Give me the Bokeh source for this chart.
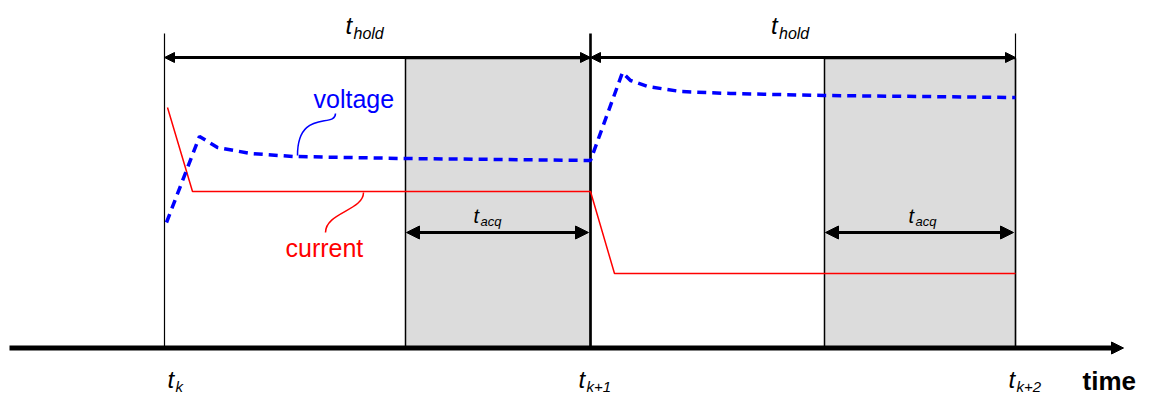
from bokeh.plotting import figure
from bokeh.models import Range1d, Arrow, NormalHead
from bokeh.core.properties import value
from bokeh.embed import file_html
from bokeh.resources import INLINE

W, H = 1141, 395
TOP = 411  # reference picture height; y = TOP - pixel row

# ---------------- data (time positions / signal levels) ----------------
tick_times = [164, 590, 1015]            # t_k, t_k+1, t_k+2
tick_subs = ["k", "k+1", "k+2"]
acq_start = [405, 824]                   # start of acquisition windows
acq_end = [590, 1015]
hold_start = [164, 590]
hold_end = [590, 1015]

current_t = [167, 192, 590, 614, 1015]
current_level = [304, 220, 220, 138, 138]

voltage_t = [166, 199, 217, 250, 293, 403, 500, 590,
             622, 630, 647, 680, 730, 823, 1015]
voltage_level = [189, 275, 264, 258, 255, 253, 252, 251,
                 339, 331, 325, 320, 318, 316, 314]

axis_level = 63.5
hold_level = 354
acq_level = 179

FONT = value("Liberation Sans")


def base(row, size):
    # y value that puts a text baseline at a given picture row
    return TOP - row + 0.3 * size


p = figure(width=W, height=H, output_backend="svg", toolbar_location=None,
           x_range=Range1d(0, W), y_range=Range1d(TOP - H, TOP),
           min_border=0, outline_line_color=None, background_fill_color="white",
           border_fill_color="white")
p.xaxis.visible = False
p.yaxis.visible = False
p.xgrid.visible = False
p.ygrid.visible = False


def label(xs, row, texts, size, color="black", style="italic"):
    p.text(x=xs, y=[base(row, size)] * len(xs), text=texts, text_font=FONT,
           text_font_style=style, text_font_size=f"{size}px",
           text_baseline="alphabetic", text_align="left", text_color=color)


# acquisition windows
p.quad(left=acq_start, right=acq_end, bottom=axis_level, top=hold_level - 1,
       fill_color="#dcdcdc", line_color="black", line_width=1.5)

# vertical markers
p.segment(x0=tick_times, x1=tick_times, y0=[axis_level] * 3, y1=[378] * 3,
          line_color="black", line_width=[1.2, 2.6, 1.2])

# signals
p.line(current_t, current_level, line_color="#ff0000", line_width=1.5)
p.line(voltage_t, voltage_level, line_color="#0000ff", line_width=3.5,
       line_dash="9 6")

# hold arrows
for a, b in zip(hold_start, hold_end):
    p.add_layout(Arrow(start=NormalHead(size=10, fill_color="black", line_color="black"),
                       end=NormalHead(size=10, fill_color="black", line_color="black"),
                       x_start=a, y_start=hold_level, x_end=b, y_end=hold_level,
                       line_width=3, line_color="black"))
# acquisition arrows
for a, b in zip(acq_start, acq_end):
    p.add_layout(Arrow(start=NormalHead(size=13, fill_color="black", line_color="black"),
                       end=NormalHead(size=13, fill_color="black", line_color="black"),
                       x_start=a + 1, y_start=acq_level, x_end=b - 2, y_end=acq_level,
                       line_width=3, line_color="black"))
# time axis
p.add_layout(Arrow(end=NormalHead(size=12, fill_color="black", line_color="black"),
                   x_start=9, y_start=axis_level, x_end=1123, y_end=axis_level,
                   line_width=5, line_color="black"))

# t_hold labels
hold_mid = [(a + b) / 2 for a, b in zip(hold_start, hold_end)]
label([m - 32 for m in hold_mid], 32, ["t"] * 2, 24)
label([m - 24 for m in hold_mid], 38, ["hold"] * 2, 16)

# t_acq labels
acq_tx = [473, 908]
label(acq_tx, 221, ["t"] * 2, 20)
label([x + 7 for x in acq_tx], 225, ["acq"] * 2, 13)

# tick labels (t_k ...)
tick_dx = [3, -12, -7]
tx = [t + d for t, d in zip(tick_times, tick_dx)]
label(tx, 386, ["t"] * 3, 24)
label([x + 8 for x in tx], 390, tick_subs, 15)

# axis title
label([1082], 388, ["time"], 26, style="bold")

# series labels with callout squiggles
label([313], 106, ["voltage"], 25, color="#0000ff", style="normal")
p.bezier(x0=[335], y0=[298], x1=[297], y1=[256], cx0=[335], cy0=[283],
         cx1=[297], cy1=[303], line_color="#0000ff", line_width=1.5)

label([285], 255, ["current"], 25, color="#ff0000", style="normal")
p.bezier(x0=[363], y0=[219], x1=[325], y1=[179], cx0=[363], cy0=[201],
         cx1=[325], cy1=[199], line_color="#ff0000", line_width=1.5)

open("out.html", "w").write(file_html(p, INLINE))
